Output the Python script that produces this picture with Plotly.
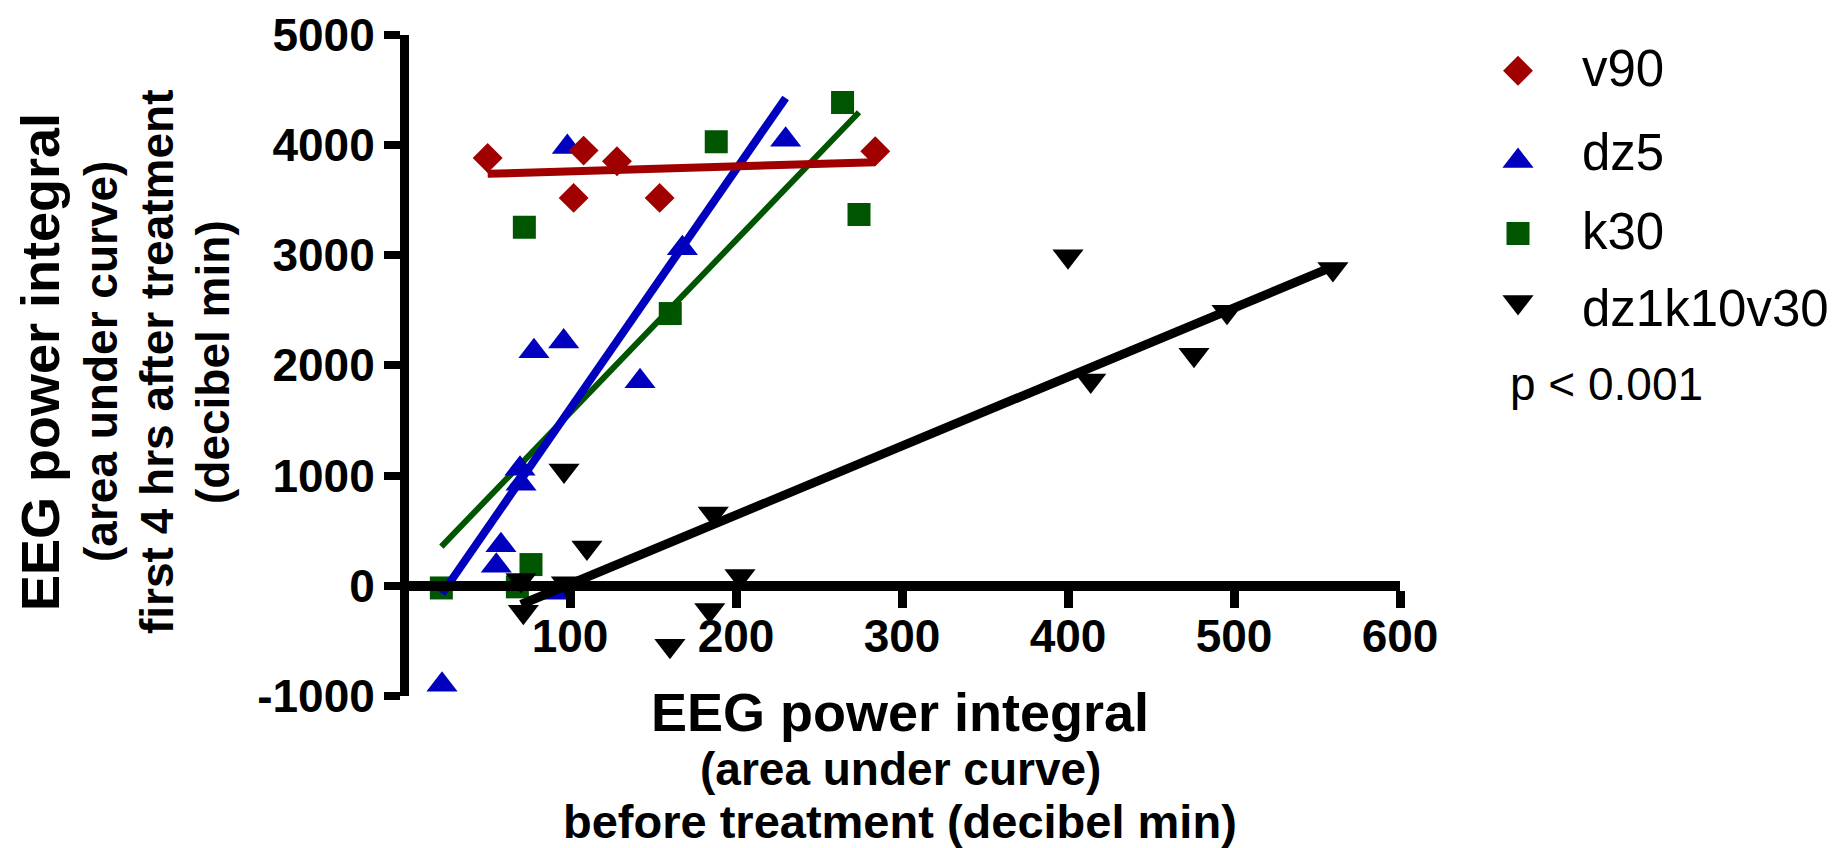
import numpy as np
import plotly.graph_objects as go

# The page body has a default 8px margin; the figure is sized/offset so that
# the rendered picture lines up with the 1846x848 window.
OFF = 8
WIN_W, WIN_H = 1846, 848
W, H = WIN_W - OFF, WIN_H - OFF

# ---------------- data ----------------
series_names = ["v90", "dz5", "k30", "dz1k10v30"]

v90_x = [50.4, 108.2, 128.3, 102.2, 154.0, 283.9]
v90_y = [3880, 3947, 3850, 3518, 3518, 3941]

dz5_x = [98.4, 229.9, 167.7, 78.3, 96.2, 142.2, 69.9, 70.5, 58.4, 55.6, 92.8, 22.9]
dz5_y = [3980, 4046, 3061, 2126, 2216, 1854, 1062, 926, 368, 181, -63, -898]

k30_x = [264.2, 188.1, 72.5, 274.1, 160.4, 76.5, 22.5, 68.3]
k30_y = [4384, 4028, 3251, 3368, 2469, 192, -20, -10]

dz1k10v30_x = [400.0, 559.6, 495.8, 475.9, 413.7, 96.4, 186.3, 110.2, 202.4, 184.2, 160.2, 70.5, 71.9, 97.8]
dz1k10v30_y = [2989, 2874, 2485, 2096, 1861, 1046, 655, 348, 88, -219, -545, 52, -235, 22]

x_ticks = [100, 200, 300, 400, 500, 600]
y_ticks = [-1000, 0, 1000, 2000, 3000, 4000, 5000]
x_range = [0, 600]
y_range = [-1000, 5000]

annotation_text = "p < 0.001"

# ---------------- styling ----------------
colors = {"v90": "#A00000", "dz5": "#0000BE", "k30": "#005500", "dz1k10v30": "#000000"}
symbols = {"v90": "diamond", "dz5": "triangle-up", "k30": "square", "dz1k10v30": "triangle-down"}
msizes = {"v90": 23, "dz5": 27, "k30": 23, "dz1k10v30": 27}
lwidths = {"v90": 8, "dz5": 8, "k30": 6, "dz1k10v30": 9}
data = {
    "v90": (v90_x, v90_y),
    "dz5": (dz5_x, dz5_y),
    "k30": (k30_x, k30_y),
    "dz1k10v30": (dz1k10v30_x, dz1k10v30_y),
}
draw_order = ["k30", "dz5", "v90", "dz1k10v30"]

FONT = "Liberation Sans, Arial, sans-serif"


def px(xp):
    return (xp - OFF) / W


def py(yp):
    return 1 - (yp - OFF) / H


# plot area in window pixels
px_left, px_right = 404, 1400
py_top, py_bottom = 34.5, 696
xdom = [px(px_left), px(px_right)]
ydom = [py(py_bottom), py(py_top)]
y_zero_paper = ydom[0] + (0 - y_range[0]) / (y_range[1] - y_range[0]) * (ydom[1] - ydom[0])

fig = go.Figure()

for name in draw_order:
    xs, ys = data[name]
    xs_a = np.array(xs, dtype=float)
    ys_a = np.array(ys, dtype=float)
    slope, intercept = np.polyfit(xs_a, ys_a, 1)
    lx = np.array([xs_a.min(), xs_a.max()])
    ly = slope * lx + intercept
    fig.add_trace(go.Scatter(
        x=xs, y=ys, mode="markers", name=name, showlegend=False,
        marker=dict(symbol=symbols[name], size=msizes[name], color=colors[name], line=dict(width=0)),
    ))
    fig.add_trace(go.Scatter(
        x=lx, y=ly, mode="lines", showlegend=False, hoverinfo="skip",
        line=dict(color=colors[name], width=lwidths[name]),
    ))

# ---------------- custom legend (overlay axes in window pixels) ----------------
legend_marker_x = 1518
legend_marker_y = [70.8, 161, 233.5, 302]
legend_text_x = 1580
legend_text_y = [69, 152, 232, 308]
for i, name in enumerate(series_names):
    fig.add_trace(go.Scatter(
        x=[legend_marker_x], y=[legend_marker_y[i]], xaxis="x2", yaxis="y2",
        mode="markers", showlegend=False, hoverinfo="skip",
        marker=dict(symbol=symbols[name], size=msizes[name], color=colors[name], line=dict(width=0)),
    ))

annotations = []
for i, name in enumerate(series_names):
    annotations.append(dict(
        xref="paper", yref="paper", x=px(legend_text_x), y=py(legend_text_y[i]),
        xanchor="left", yanchor="middle", text=name, showarrow=False,
        font=dict(family=FONT, size=51, color="black"),
    ))
annotations.append(dict(
    xref="paper", yref="paper", x=px(1508), y=py(384),
    xanchor="left", yanchor="middle", text=annotation_text, showarrow=False,
    font=dict(family=FONT, size=46, color="black"),
))

# y-axis title lines (rotated)
ytitle = [("EEG power integral", 54, 40), ("(area under curve)", 46, 101),
          ("first 4 hrs after treatment", 46, 157), ("(decibel min)", 46, 213)]
for txt, fs, cx in ytitle:
    annotations.append(dict(
        xref="paper", yref="paper", x=px(cx), y=py(362),
        xanchor="center", yanchor="middle", text=txt, showarrow=False, textangle=-90,
        font=dict(family=FONT, size=fs, color="black", weight="bold"),
    ))

# x-axis title lines
xtitle = [("EEG power integral", 54, 712), ("(area under curve)", 46, 768.5),
          ("before treatment (decibel min)", 47, 821)]
for txt, fs, cy in xtitle:
    annotations.append(dict(
        xref="paper", yref="paper", x=px(900), y=py(cy),
        xanchor="center", yanchor="middle", text=txt, showarrow=False,
        font=dict(family=FONT, size=fs, color="black", weight="bold"),
    ))

fig.update_layout(
    template="none",
    width=W, height=H,
    margin=dict(l=0, r=0, t=0, b=0, pad=0, autoexpand=False),
    paper_bgcolor="white",
    plot_bgcolor="rgba(0,0,0,0)",
    showlegend=False,
    annotations=annotations,
    xaxis=dict(
        domain=xdom, range=x_range, anchor="free", position=y_zero_paper,
        tickmode="array", tickvals=x_ticks, ticktext=[str(v) for v in x_ticks],
        ticks="outside", ticklen=17, tickwidth=9, tickcolor="black",
        ticklabelstandoff=-11,
        showline=True, linewidth=10, linecolor="black",
        showgrid=False, zeroline=False, automargin=False,
        tickfont=dict(family=FONT, size=46, color="black", weight="bold"),
        fixedrange=True,
    ),
    yaxis=dict(
        domain=ydom, range=y_range, anchor="free", position=xdom[0],
        tickmode="array", tickvals=y_ticks, ticktext=[str(v) for v in y_ticks],
        ticks="outside", ticklen=16, tickwidth=8, tickcolor="black",
        showline=True, linewidth=9, linecolor="black",
        showgrid=False, zeroline=False, automargin=False,
        tickfont=dict(family=FONT, size=46, color="black", weight="bold"),
        fixedrange=True,
    ),
    xaxis2=dict(domain=[0, 1], range=[OFF, OFF + W], anchor="y2", visible=False,
                fixedrange=True, automargin=False),
    yaxis2=dict(domain=[0, 1], range=[OFF + H, OFF], anchor="x2", visible=False,
                fixedrange=True, automargin=False),
)

fig.write_html("out.html")
